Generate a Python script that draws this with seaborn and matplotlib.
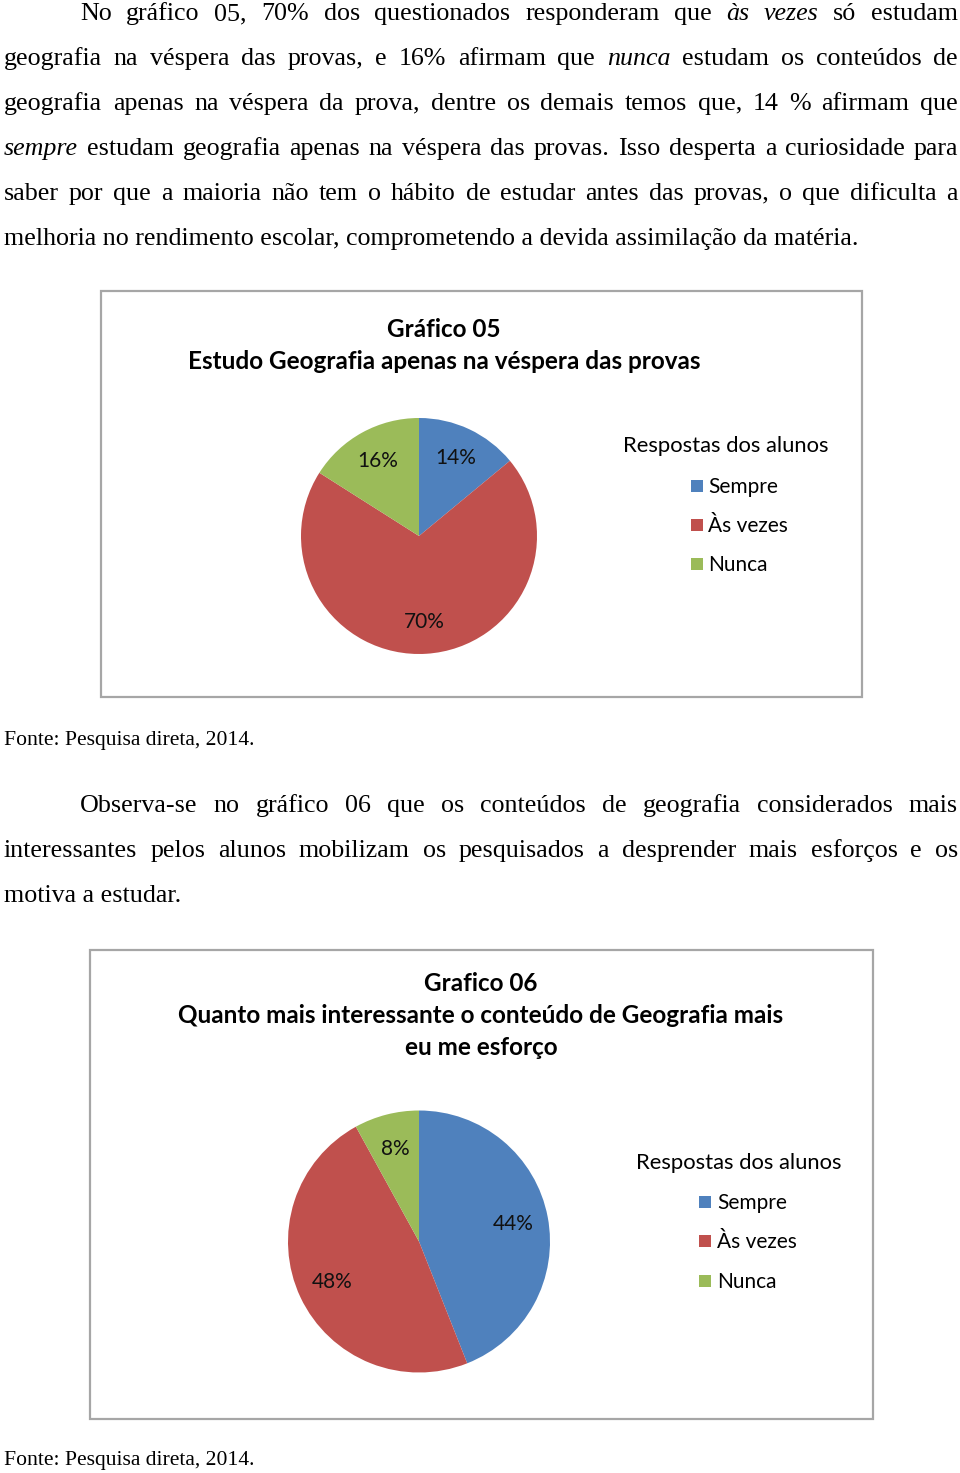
import matplotlib
matplotlib.use("Agg")
import matplotlib.pyplot as plt
from matplotlib.patches import Rectangle
import seaborn as sns

sns.set_theme(style="white")
plt.rcParams['font.family'] = ['DejaVu Sans']

# ---------------- data ----------------
categories = ["Sempre", "Às vezes", "Nunca"]
g05_values = [14, 70, 16]
g06_values = [44, 48, 8]
palette = ["#4F81BD", "#C0504D", "#9BBB59"]
g05_title = ["Gráfico 05", "Estudo Geografia apenas na véspera das provas"]
g06_title = ["Grafico 06", "Quanto mais interessante o conteúdo de Geografia mais", "eu me esforço"]
legend_title = "Respostas dos alunos"
source_text = "Fonte: Pesquisa direta, 2014."

para1_lines = [
    "No gráfico 05, 70% dos questionados responderam que *às *vezes só estudam",
    "geografia na véspera das provas, e 16% afirmam que *nunca estudam os conteúdos de",
    "geografia apenas na véspera da prova, dentre os demais temos que, 14 % afirmam que",
    "*sempre estudam geografia apenas na véspera das provas. Isso desperta a curiosidade para",
    "saber por que a maioria não tem o hábito de estudar antes das provas, o que dificulta a",
    "melhoria no rendimento escolar, comprometendo a devida assimilação da matéria.",
]
para2_lines = [
    "Observa-se no gráfico 06 que os conteúdos de geografia considerados mais",
    "interessantes pelos alunos mobilizam os pesquisados a desprender mais esforços e os",
    "motiva a estudar.",
]

# ---------------- figure ----------------
W, H = 960, 1473
DPI = 100
fig = plt.figure(figsize=(W / DPI, H / DPI), dpi=DPI, facecolor="white")
renderer = fig.canvas.get_renderer()

SERIF = "Liberation Serif"
SANS = "Lato"


def fx(x):
    return x / W


def fy(y):
    return 1 - y / H


def text_width(s, size, family, weight="normal", style="normal"):
    t = fig.text(0, 0, s, fontsize=size, family=family, weight=weight, style=style)
    w = t.get_window_extent(renderer).width
    t.remove()
    return w


def fit_size(s, target, family, weight="normal"):
    return 20 * target / text_width(s, 20, family, weight)


body_size = fit_size(para1_lines[-1], 856, SERIF)
src_size = fit_size(source_text, 251, SERIF)
title_size = fit_size(g05_title[1], 512, SANS, "bold")
leg_title_size = fit_size(legend_title, 206, SANS)
item_size = 0.5 * (fit_size("Às vezes", 75, SANS) + leg_title_size)
pct_size = 0.95 * leg_title_size


def draw_line(line, x0, x1, ybase, justify):
    words = line.split(" ")
    items = []
    for w in words:
        italic = w.startswith("*")
        w = w.lstrip("*")
        items.append((w, "italic" if italic else "normal"))
    if not justify:
        fig.text(fx(x0), fy(ybase), line.replace("*", ""), fontsize=body_size,
                 family=SERIF, va="baseline", ha="left", color="black")
        return
    widths = [text_width(w, body_size, SERIF, style=st) for w, st in items]
    gap = (x1 - x0 - sum(widths)) / (len(items) - 1)
    x = x0
    for (w, st), wd in zip(items, widths):
        fig.text(fx(x), fy(ybase), w, fontsize=body_size, family=SERIF,
                 style=st, va="baseline", ha="left", color="black")
        x += wd + gap


def draw_paragraph(lines, base0, step=45, indent=80, left=4, right=958):
    for i, line in enumerate(lines):
        x0 = indent if i == 0 else left
        last = i == len(lines) - 1
        draw_line(line, x0, right, base0 + i * step, not last)


draw_paragraph(para1_lines, 20)
fig.text(fx(4), fy(745), source_text, fontsize=src_size, family=SERIF,
         va="baseline", ha="left", color="black")
draw_paragraph(para2_lines, 812)
fig.text(fx(4), fy(1465), source_text, fontsize=src_size, family=SERIF,
         va="baseline", ha="left", color="black")


def draw_chart(values, titles, box, title_cx, title_base, center, radius,
               leg_x, leg_base, sq_x, item_x, item_bases):
    bx0, by0, bx1, by1 = box
    fig.patches.append(Rectangle((fx(bx0), fy(by1)), (bx1 - bx0) / W, (by1 - by0) / H,
                                 transform=fig.transFigure, fill=False,
                                 edgecolor="#a6a6a6", linewidth=1.6, zorder=0))
    for i, t in enumerate(titles):
        fig.text(fx(title_cx), fy(title_base + i * 32), t, fontsize=title_size,
                 family=SANS, weight="bold", ha="center", va="baseline", color="black")
    cx, cy = center
    ax = fig.add_axes([fx(cx - radius), fy(cy + radius), 2 * radius / W, 2 * radius / H])
    wedges, _, autotexts = ax.pie(values, colors=palette, startangle=90, counterclock=False,
                                  autopct="%1.0f%%", pctdistance=0.73,
                                  wedgeprops=dict(linewidth=0),
                                  textprops=dict(fontsize=pct_size, family=SANS, color="#111111"))
    ax.set_xlim(-1, 1)
    ax.set_ylim(-1, 1)
    ax.set_aspect("auto")
    ax.axis("off")
    fig.text(fx(leg_x), fy(leg_base), legend_title, fontsize=leg_title_size, family=SANS,
             ha="left", va="baseline", color="black")
    for cat, col, yb in zip(categories, palette, item_bases):
        fig.patches.append(Rectangle((fx(sq_x), fy(yb - 1)), 12 / W, 12 / H,
                                     transform=fig.transFigure, facecolor=col,
                                     edgecolor="none"))
        fig.text(fx(item_x), fy(yb), cat, fontsize=item_size, family=SANS,
                 ha="left", va="baseline", color="black")


draw_chart(g05_values, g05_title, (101, 291, 862, 697), 444, 337, (419, 536), 118,
           623, 452, 691, 708, [493, 532, 571])
draw_chart(g06_values, g06_title, (90, 950, 873, 1419), 481, 991, (419, 1241.5), 131,
           636, 1169, 699, 717, [1209, 1248, 1288])

fig.savefig("out.png", dpi=DPI, facecolor="white")
